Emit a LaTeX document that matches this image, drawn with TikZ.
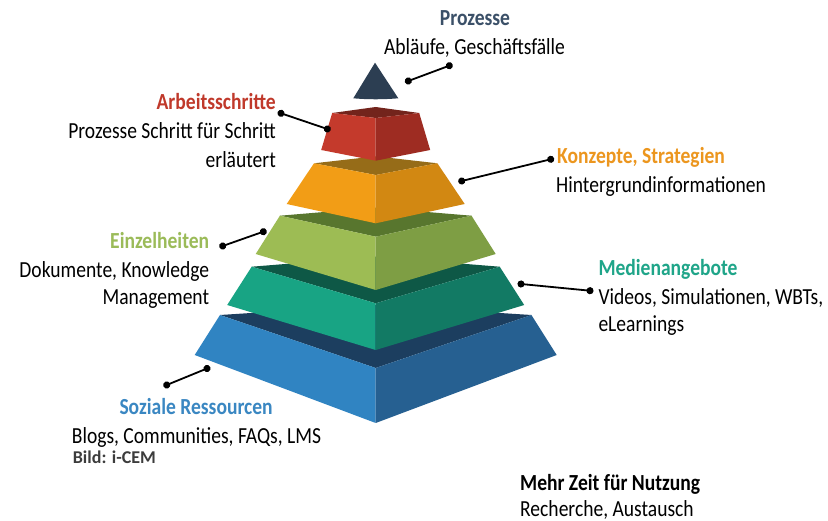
\documentclass[tikz,border=0pt]{standalone}
\usepackage{fontspec}
\setmainfont[FakeStretch=0.85]{Carlito}
\newfontfamily\bildfont{Carlito}
\usetikzlibrary{arrows.meta}
\definecolor{cnavy}{RGB}{44,62,82}
\definecolor{redL}{RGB}{196,58,44}
\definecolor{redR}{RGB}{158,44,34}
\definecolor{redT}{RGB}{115,36,28}
\definecolor{orL}{RGB}{242,157,22}
\definecolor{orR}{RGB}{210,136,18}
\definecolor{orT}{RGB}{150,108,24}
\definecolor{grL}{RGB}{157,188,84}
\definecolor{grR}{RGB}{126,158,68}
\definecolor{grT}{RGB}{88,118,46}
\definecolor{teL}{RGB}{24,164,132}
\definecolor{teR}{RGB}{18,122,100}
\definecolor{teT}{RGB}{14,88,70}
\definecolor{blL}{RGB}{48,132,194}
\definecolor{blR}{RGB}{38,96,145}
\definecolor{blT}{RGB}{28,62,95}
\definecolor{tProz}{RGB}{59,80,104}
\definecolor{tArb}{RGB}{192,57,43}
\definecolor{tKon}{RGB}{236,150,30}
\definecolor{tEin}{RGB}{155,187,89}
\definecolor{tMed}{RGB}{31,165,137}
\definecolor{tSoz}{RGB}{58,135,194}
\definecolor{tBild}{RGB}{60,60,60}
\newcommand\lblfont{\fontsize{23}{28}\selectfont}
% layer: yc, wt, fo, yb, wb, fb, bo, top, left, right
\newcommand\pyrlayer[9]{%
  \fill[#8] (375.7-#2,#1) -- (375.7,#1-#7) -- (375.7+#2,#1) -- (375.7,#1+#3) -- cycle;
  \fill[#9L] (375.7-#2,#1) -- (375.7,#1+#3) -- (375.7,#4+#6) -- (375.7-#5,#4) -- cycle;
  \fill[#9R] (375.7+#2,#1) -- (375.7,#1+#3) -- (375.7,#4+#6) -- (375.7+#5,#4) -- cycle;
}
\tikzset{
  lbl/.style={inner sep=0pt, font=\lblfont},
  conn/.style={line width=1.8pt, black, {Circle[length=7pt]}-{Circle[length=7pt]}, shorten <=-3.5pt, shorten >=-3.5pt}
}
\begin{document}
\begin{tikzpicture}[x=1pt,y=-1pt]
\fill[white] (0,0) rectangle (828,521);
\useasboundingbox (0,0) rectangle (828,521);
% pyramid, bottom first
\pyrlayer{315}{155.7}{53}{355}{181}{68}{10}{blT}{bl}
\pyrlayer{266.7}{124}{36.6}{305}{148.5}{45}{10}{teT}{te}
\pyrlayer{215.7}{95.8}{21}{254}{120}{36}{8}{grT}{gr}
\pyrlayer{163.3}{61.7}{11.7}{204}{89}{19.3}{7}{orT}{or}
\pyrlayer{113}{43.5}{5}{150}{54.5}{10.7}{6}{redT}{red}
\fill[cnavy] (375,62.7) -- (353.3,98.3) .. controls (368,99.6) and (383,99.6) .. (398.3,98.3) -- cycle;
% labels
\node[lbl, anchor=base, text=tProz] (prozH) at (475,26) {\bfseries Prozesse};
\node[lbl, anchor=base] (prozT) at (474.5,54.3) {Abläufe, Geschäftsfälle};
\node[lbl, anchor=base east, text=tArb] (arbH) at (276,109.3) {\bfseries Arbeitsschritte};
\node[lbl, anchor=base east] (arbT1) at (276,138.3) {Prozesse Schritt für Schritt};
\node[lbl, anchor=base east] (arbT2) at (276,167.3) {erläutert};
\node[lbl, anchor=base west, text=tKon] (konH) at (557,163.3) {\bfseries Konzepte, Strategien};
\node[lbl, anchor=base west] (konT) at (556,192.2) {Hintergrundinformationen};
\node[lbl, anchor=base east, text=tEin] (einH) at (209.3,248.3) {\bfseries Einzelheiten};
\node[lbl, anchor=base east] (einT1) at (209.3,277.7) {Dokumente, Knowledge};
\node[lbl, anchor=base east] (einT2) at (209.3,305) {Management};
\node[lbl, anchor=base west, text=tMed] (medH) at (598.3,276) {\bfseries Medienangebote};
\node[lbl, anchor=base west] (medT1) at (598.3,305) {Videos, Simulationen, WBTs,};
\node[lbl, anchor=base west] (medT2) at (598.3,331.7) {eLearnings};
\node[lbl, anchor=base west, text=tSoz] (sozH) at (119.3,414) {\bfseries Soziale Ressourcen};
\node[lbl, anchor=base west] (sozT) at (71.7,443.3) {Blogs, Communities, FAQs, LMS};
\node[inner sep=0pt, anchor=base west, text=tBild, font=\bildfont\bfseries\fontsize{18}{20}\selectfont] (bild) at (72.7,463.3) {Bild: i-CEM};
\node[lbl, anchor=base west] (mehrH) at (520,490) {\bfseries Mehr Zeit für Nutzung};
\node[lbl, anchor=base west] (mehrT) at (520,516) {Recherche, Austausch};
% connectors
\coordinate (cP1) at (408.3,81);   \coordinate (cP2) at (449.3,65.7);
\coordinate (cA1) at (281,113.3);  \coordinate (cA2) at (327.3,129);
\coordinate (cK1) at (461.7,181);  \coordinate (cK2) at (550.7,159.3);
\coordinate (cE1) at (222.7,246);  \coordinate (cE2) at (263.3,231.7);
\coordinate (cM1) at (521,284);    \coordinate (cM2) at (590,290.7);
\coordinate (cS1) at (166.7,385);  \coordinate (cS2) at (207,368.5);
\draw[conn] (cP1) -- (cP2);
\draw[conn] (cA1) -- (cA2);
\draw[conn] (cK1) -- (cK2);
\draw[conn] (cE1) -- (cE2);
\draw[conn] (cM1) -- (cM2);
\draw[conn] (cS1) -- (cS2);
\end{tikzpicture}
\end{document}
